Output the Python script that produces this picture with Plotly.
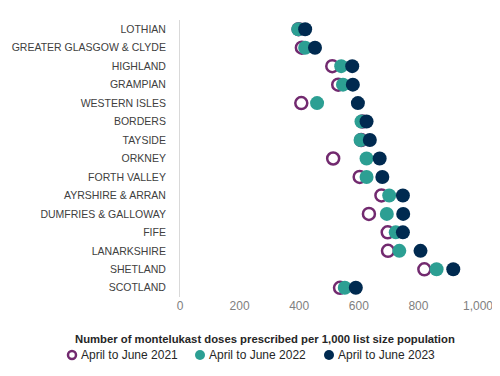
import plotly.graph_objects as go

categories = ["LOTHIAN", "GREATER GLASGOW & CLYDE", "HIGHLAND", "GRAMPIAN", "WESTERN ISLES",
              "BORDERS", "TAYSIDE", "ORKNEY", "FORTH VALLEY", "AYRSHIRE & ARRAN",
              "DUMFRIES & GALLOWAY", "FIFE", "LANARKSHIRE", "SHETLAND", "SCOTLAND"]
v2021 = [398, 409, 511, 531, 407, 612, 608, 514, 603, 676, 634, 697, 698, 820, 537]
v2022 = [397, 420, 541, 547, 460, 609, 606, 626, 626, 702, 694, 724, 736, 861, 553]
v2023 = [420, 453, 578, 580, 597, 626, 637, 670, 679, 748, 749, 748, 807, 917, 590]
series_names = ["April to June 2021", "April to June 2022", "April to June 2023"]
x_ticks = [0, 200, 400, 600, 800, 1000]
x_tick_labels = ["0", "200", "400", "600", "800", "1,000"]

purple = "#722A6F"
teal = "#2C9F93"
navy = "#002A50"
colors = [purple, teal, navy]

fig = go.Figure()
fig.add_trace(go.Scatter(x=v2021, y=categories, mode="markers", name=series_names[0],
                         marker=dict(symbol="circle-open", size=12, color=purple,
                                     line=dict(width=2.5, color=purple))))
fig.add_trace(go.Scatter(x=v2022, y=categories, mode="markers", name=series_names[1],
                         marker=dict(symbol="circle", size=14, color=teal)))
fig.add_trace(go.Scatter(x=v2023, y=categories, mode="markers", name=series_names[2],
                         marker=dict(symbol="circle", size=14, color=navy)))

# page offset of the figure (body margin)
OFF = 8
W, H = 500 - OFF, 376 - OFF
# Plot area in page pixels: x 180..478, y 20..297
L, R, T, B = 180, 478, 20, 297
def px(x):
    return (x - L) / (R - L)
def py(y):
    return (B - y) / (B - T)

shapes = []
annotations = [dict(text="<b>Number of montelukast doses prescribed per 1,000 list size population</b>",
                    xref="paper", yref="paper", x=px(265), y=py(339), xanchor="center",
                    yanchor="middle", showarrow=False,
                    font=dict(size=11.3, color="#262626"))]
legend_centers = [72, 200, 329]
for i, (name, c, cx) in enumerate(zip(series_names, colors, legend_centers)):
    r = 5
    if i == 0:
        shapes.append(dict(type="circle", xref="paper", yref="paper",
                           x0=px(cx - r + 1), x1=px(cx + r - 1), y0=py(355 + r - 1), y1=py(355 - r + 1),
                           line=dict(color=c, width=2.5), fillcolor="white"))
    else:
        shapes.append(dict(type="circle", xref="paper", yref="paper",
                           x0=px(cx - r), x1=px(cx + r), y0=py(355 + r), y1=py(355 - r),
                           line=dict(color=c, width=0), fillcolor=c))
    annotations.append(dict(text=name, xref="paper", yref="paper", x=px(cx + 7), y=py(355),
                            xanchor="left", yanchor="middle", showarrow=False,
                            font=dict(size=12, color="#262626")))

fig.update_layout(
    width=W, height=H,
    margin=dict(l=L - OFF, r=W - (R - OFF), t=T - OFF, b=H - (B - OFF)),
    paper_bgcolor="white", plot_bgcolor="white",
    font=dict(family="Liberation Sans, Arial, sans-serif", color="#404040"),
    showlegend=False,
    xaxis=dict(range=[0, 1000], tickvals=x_ticks, ticktext=x_tick_labels,
               showgrid=False, zeroline=False, showline=False, automargin=False,
               tickfont=dict(size=12, color="#808080"), ticks=""),
    yaxis=dict(categoryorder="array", categoryarray=categories, range=[14.5, -0.5],
               showgrid=False, zeroline=False, showline=True, linecolor="#D9D9D9",
               linewidth=1, ticks="", ticklabelstandoff=11, automargin=False,
               tickfont=dict(size=10.5, color="#404040")),
    shapes=shapes,
    annotations=annotations,
)

fig.write_html("out.html")
